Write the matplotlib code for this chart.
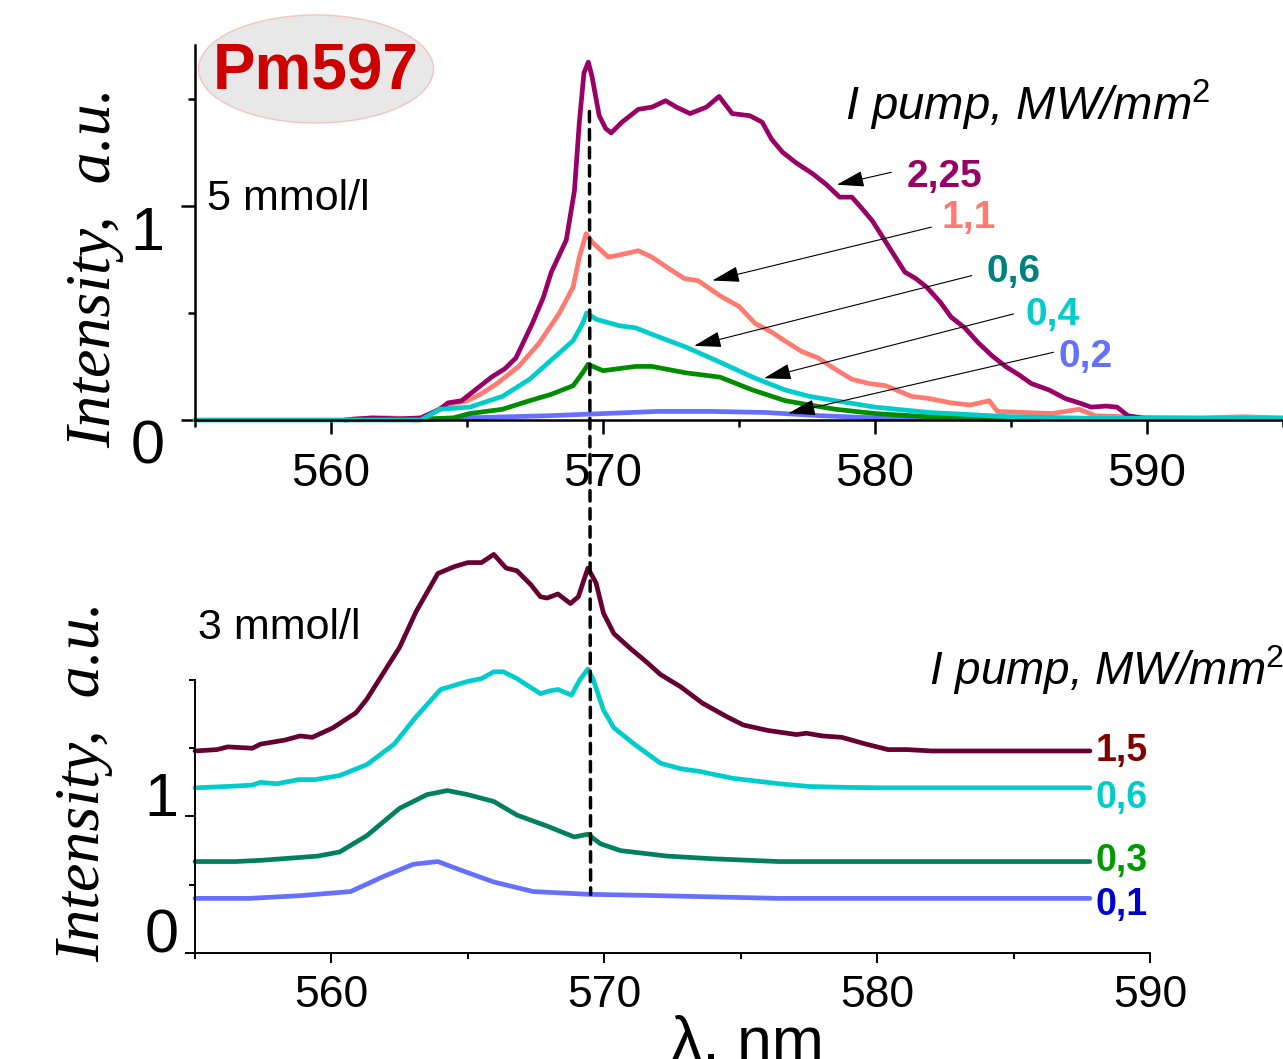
import matplotlib
matplotlib.use('Agg')
import matplotlib.pyplot as plt
from matplotlib.patches import Ellipse, ConnectionPatch

plt.rcParams['font.family'] = ['Liberation Sans', 'DejaVu Sans']
plt.rcParams['mathtext.fontset'] = 'custom'
plt.rcParams['mathtext.rm'] = 'Liberation Sans'
plt.rcParams['mathtext.it'] = 'Liberation Sans:italic'

# ---- 5 mmol/l (upper panel) ----
wl_225 = [560.5, 561.5, 562.5, 563.3, 564.0, 564.3, 564.8, 565.2, 565.9, 566.4, 566.8, 567.4, 567.8,
          568.1, 568.65, 568.95, 569.13, 569.3, 569.46, 569.6, 569.86, 570.1, 570.3, 570.7, 571.3,
          571.8, 572.3, 572.7, 573.2, 573.8, 574.27, 574.75, 575.4, 575.85, 576.2, 576.6, 577.1,
          577.7, 578.2, 578.7, 579.15, 579.5, 579.9, 580.4, 581.1, 581.5, 581.9, 582.4, 582.8, 583.3,
          583.8, 584.3, 584.8, 585.3, 585.75, 586.4, 587.0, 587.5, 587.95, 588.5, 588.9, 589.3, 590.0, 595.0]
int_225 = [0.0, 0.01, 0.005, 0.01, 0.05, 0.08, 0.09, 0.13, 0.2, 0.24, 0.29, 0.45, 0.57,
           0.69, 0.84, 1.07, 1.39, 1.62, 1.67, 1.60, 1.42, 1.36, 1.34, 1.39, 1.45,
           1.46, 1.49, 1.46, 1.43, 1.46, 1.51, 1.43, 1.42, 1.39, 1.31, 1.25, 1.20,
           1.15, 1.10, 1.04, 1.04, 0.99, 0.93, 0.83, 0.69, 0.66, 0.62, 0.55, 0.48, 0.43,
           0.36, 0.30, 0.25, 0.21, 0.17, 0.14, 0.10, 0.08, 0.06, 0.065, 0.06, 0.02, 0.005, 0.005]

wl_11 = [560.8, 562.0, 563.3, 564.25, 565.0, 565.5, 566.1, 566.9, 567.66, 568.4, 568.9, 569.13, 569.38,
         569.6, 570.2, 570.6, 571.3, 571.8, 572.5, 573.0, 573.5, 574.3, 575.0, 575.6, 576.2, 576.8,
         577.3, 577.9, 578.5, 579.15, 579.8, 580.4, 581.35, 582.0, 582.8, 583.5, 584.2, 584.5, 585.5,
         586.5, 587.5, 588.1, 590.0, 592.0, 593.5, 595.0]
int_11 = [0.005, 0.01, 0.005, 0.07, 0.09, 0.12, 0.17, 0.25, 0.36, 0.50, 0.62, 0.76, 0.87,
          0.83, 0.76, 0.77, 0.79, 0.76, 0.70, 0.66, 0.65, 0.58, 0.53, 0.45, 0.41, 0.36,
          0.32, 0.29, 0.24, 0.19, 0.17, 0.16, 0.11, 0.10, 0.08, 0.07, 0.09, 0.04, 0.035,
          0.03, 0.05, 0.02, 0.012, 0.01, 0.015, 0.01]

wl_06 = [555.0, 563.3, 564.0, 565.1, 566.3, 567.3, 568.1, 568.9, 569.25, 569.4, 569.75, 570.6, 571.2,
         571.8, 573.05, 574.3, 575.5, 576.7, 577.6, 578.55, 580.0, 582.0, 585.0, 588.0, 595.0]
int_06 = [0.0, 0.0, 0.05, 0.06, 0.11, 0.19, 0.28, 0.37, 0.45, 0.50, 0.47, 0.44, 0.43,
          0.40, 0.34, 0.27, 0.20, 0.14, 0.11, 0.09, 0.06, 0.035, 0.015, 0.008, 0.008]

wl_04 = [563.5, 564.5, 565.1, 566.3, 567.3, 568.1, 568.9, 569.25, 569.45, 570.0, 571.2, 571.8,
         573.05, 574.3, 575.5, 576.7, 577.6, 578.55, 580.0, 582.0, 584.0, 586.0]
int_04 = [0.005, 0.01, 0.03, 0.05, 0.09, 0.12, 0.16, 0.22, 0.26, 0.23, 0.25, 0.25,
          0.22, 0.20, 0.14, 0.09, 0.07, 0.05, 0.03, 0.015, 0.005, 0.003]

wl_02 = [563.0, 565.0, 568.0, 570.0, 572.0, 574.0, 576.0, 578.0, 580.0, 583.0, 586.0]
int_02 = [0.0, 0.01, 0.02, 0.03, 0.04, 0.04, 0.035, 0.02, 0.01, 0.005, 0.003]

# ---- 3 mmol/l (lower panel) ----
wl_15 = [555.0, 555.8, 556.2, 557.1, 557.4, 558.3, 558.85, 559.3, 560.06, 560.9, 561.3, 561.9, 562.5,
         563.1, 563.9, 564.5, 565.0, 565.5, 565.95, 566.4, 566.8, 567.3, 567.66, 567.9, 568.3, 568.76,
         569.05, 569.4, 569.7, 569.97, 570.35, 570.96, 571.5, 572.06, 572.8, 573.6, 574.5, 575.1,
         576.0, 577.05, 577.4, 578.0, 578.7, 579.6, 580.4, 581.1, 582.0, 584.0, 586.0, 587.8]
int_15 = [1.48, 1.49, 1.51, 1.50, 1.53, 1.56, 1.59, 1.58, 1.65, 1.76, 1.86, 2.05, 2.24,
          2.50, 2.78, 2.83, 2.86, 2.86, 2.92, 2.82, 2.80, 2.70, 2.61, 2.60, 2.63, 2.56,
          2.61, 2.82, 2.71, 2.49, 2.34, 2.23, 2.14, 2.04, 1.95, 1.83, 1.73, 1.67,
          1.63, 1.60, 1.61, 1.59, 1.58, 1.53, 1.49, 1.49, 1.48, 1.48, 1.48, 1.48]

wl_06b = [555.0, 556.2, 557.1, 557.4, 558.0, 558.8, 559.4, 560.3, 561.3, 562.3, 563.1, 564.0, 565.0,
          565.5, 565.95, 566.3, 566.8, 567.66, 568.0, 568.3, 568.8, 569.1, 569.4, 569.6, 569.97,
          570.35, 571.1, 572.06, 572.8, 573.5, 574.7, 576.4, 577.5, 578.5, 580.0, 583.0, 587.8]
int_06b = [1.21, 1.22, 1.23, 1.25, 1.24, 1.27, 1.27, 1.30, 1.38, 1.53, 1.73, 1.93, 1.99,
           2.01, 2.06, 2.06, 2.01, 1.90, 1.92, 1.93, 1.89, 2.00, 2.08, 2.00, 1.78,
           1.65, 1.53, 1.39, 1.35, 1.33, 1.28, 1.24, 1.22, 1.215, 1.21, 1.21, 1.21]

wl_03 = [555.0, 556.5, 557.5, 558.85, 559.5, 560.3, 561.3, 562.5, 563.5, 564.25, 565.0, 565.95, 566.8,
         567.9, 568.9, 569.4, 569.86, 570.6, 572.3, 574.0, 576.4, 580.0, 587.8]
int_03 = [0.67, 0.67, 0.68, 0.70, 0.71, 0.74, 0.86, 1.06, 1.16, 1.19, 1.16, 1.11, 1.01,
          0.93, 0.85, 0.87, 0.80, 0.75, 0.71, 0.69, 0.67, 0.67, 0.67]

wl_01 = [555.0, 557.0, 558.85, 560.7, 561.9, 563.0, 563.9, 564.7, 565.95, 567.4, 569.4, 572.0, 576.4, 587.8]
int_01 = [0.40, 0.40, 0.42, 0.45, 0.56, 0.65, 0.67, 0.61, 0.52, 0.45, 0.43, 0.42, 0.40, 0.40]

# labels and where they sit (upper panel: text baseline, arrow tail, arrow head)
top_labels = ['2,25', '1,1', '0,6', '0,4', '0,2']
top_label_colors = ['#990066', '#FF7A70', '#008080', '#00CCCC', '#6670FF']
top_label_xy = [(581.17, 1.089), (582.45, 0.897), (584.1, 0.645), (585.53, 0.444), (586.74, 0.248)]
arrow_tail = [(580.60, 1.156), (582.07, 0.900), (583.56, 0.674), (585.09, 0.495), (586.56, 0.316)]
arrow_head = [(578.60, 1.098), (574.02, 0.651), (573.35, 0.346), (575.92, 0.195), (576.81, 0.031)]

bot_labels = ['1,5', '0,6', '0,3', '0,1']
bot_label_colors = ['#800000', '#00CCCC', '#009900', '#0000CC']
bot_label_y = [1.41, 1.06, 0.60, 0.28]

peak_nm = 569.5

fig = plt.figure(figsize=(12.83, 10.59), dpi=100)
ax1 = fig.add_axes([0.152, 0.6034, 0.848, 0.3541])
ax2 = fig.add_axes([0.152, 0.1001, 0.7443, 0.2578])

lw = 3.4
style = dict(lw=lw, clip_on=False, solid_joinstyle='round', solid_capstyle='round')
ax1.plot(wl_02, int_02, color='#6670FF', **style)
ax1.plot(wl_04, int_04, color='#008C00', **style)
ax1.plot(wl_11, int_11, color='#FF7A70', **style)
ax1.plot(wl_225, int_225, color='#990066', **style)
ax1.plot(wl_06, int_06, color='#00CCCC', **style)

ax2.plot(wl_01, int_01, color='#6670FF', **style)
ax2.plot(wl_03, int_03, color='#008060', **style)
ax2.plot(wl_06b, int_06b, color='#00CCCC', **style)
ax2.plot(wl_15, int_15, color='#660033', **style)

ax1.set_xlim(555, 594.95)
ax1.set_ylim(0, 1.75)
ax2.set_xlim(555, 590)
ax2.set_ylim(0, 2.0)

for ax in (ax1, ax2):
    ax.spines['top'].set_visible(False)
    ax.spines['right'].set_visible(False)
    ax.set_xticks([560, 570, 580, 590])
    ax.set_xticks([555, 565, 575, 585, 595] if ax is ax1 else [555, 565, 575, 585], minor=True)
    ax.set_yticks([0, 1])
    ax.set_yticklabels(['0', '1'])

ax2.set_yticks([0.5, 1.5, 2.0], minor=True)
ax1.set_yticks([0.5, 1.5], minor=True)

for sp in ('left', 'bottom'):
    ax1.spines[sp].set_linewidth(1.8)
    ax2.spines[sp].set_linewidth(1.4)

ax1.tick_params(axis='x', which='major', length=10, width=1.8, labelsize=34, pad=13)
ax1.tick_params(axis='x', which='minor', length=5, width=1.8)
ax1.tick_params(axis='y', which='major', length=10, width=1.8, labelsize=44, pad=12)
ax1.tick_params(axis='y', which='minor', length=5, width=1.8)
ax2.tick_params(axis='x', which='major', length=7, width=1.4, labelsize=32, pad=9)
ax2.tick_params(axis='x', which='minor', length=4, width=1.4)
ax2.tick_params(axis='y', which='major', length=7, width=1.4, labelsize=44, pad=5)
ax2.tick_params(axis='y', which='minor', length=4, width=1.4)
plt.setp(ax1.get_yticklabels(), va='top')
plt.setp(ax2.get_yticklabels(), va='baseline')

# dashed line through the sharp peak, across both panels
con = ConnectionPatch(xyA=(peak_nm, 1.44), coordsA='data', axesA=ax1,
                      xyB=(peak_nm, 0.43), coordsB='data', axesB=ax2,
                      color='black', lw=2.5, linestyle=(0, (3, 2.2)), zorder=10)
fig.add_artist(con)

# panel annotations
ax1.text(555.45, 0.98, '5 mmol/l', fontsize=31, ha='left', va='baseline')
ax2.text(555.1, 2.3, '3 mmol/l', fontsize=31, ha='left', va='baseline')

ax1.text(578.9, 1.40, r'I pump, MW/mm$^{\mathrm{2}}$', fontsize=34, style='italic', ha='left', va='baseline')
ax2.text(581.9, 1.96, r'I pump, MW/mm$^{\mathrm{2}}$', fontsize=33, style='italic', ha='left', va='baseline',
         clip_on=False)

for lab, col, xy, tail, head in zip(top_labels, top_label_colors, top_label_xy, arrow_tail, arrow_head):
    ax1.text(xy[0], xy[1], lab, color=col, fontsize=28, fontweight='bold', ha='left', va='baseline')
    ax1.annotate('', xy=head, xytext=tail,
                 arrowprops=dict(arrowstyle='-|>,head_length=0.85,head_width=0.25', color='black',
                                 lw=0.8, mutation_scale=20, shrinkA=0, shrinkB=0))

for lab, col, yv in zip(bot_labels, bot_label_colors, bot_label_y):
    ax2.text(588.0, yv, lab, color=col, fontsize=27, fontweight='bold', ha='left', va='baseline',
             clip_on=False)

# y axis labels
fig.text(95 / 1283, 1 - 268 / 1059, 'Intensity,  a.u.', family=['Liberation Serif'], style='italic',
         fontsize=46, rotation=90, ha='center', va='center')
fig.text(84 / 1283, 1 - 782 / 1059, 'Intensity,  a.u.', family=['Liberation Serif'], style='italic',
         fontsize=46, rotation=90, ha='center', va='center')

fig.text(747 / 1283, -0.002, 'λ, nm', fontsize=45, ha='center', va='baseline')

# dye name badge
badge = Ellipse((316 / 1283, 1 - 69 / 1059), 235 / 1283, 108 / 1059, transform=fig.transFigure,
                facecolor='#E8E8E8', edgecolor='#F2C4C4', lw=1.0, zorder=5)
fig.add_artist(badge)
fig.text(316 / 1283, 1 - 72 / 1059, 'Pm597', color='#CC0000', fontsize=46, fontweight='bold',
         ha='center', va='center', zorder=6)

fig.savefig('out.png', dpi=100)
